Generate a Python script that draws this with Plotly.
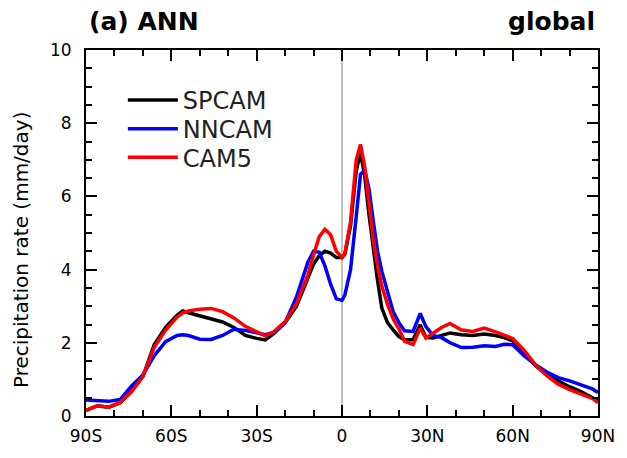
import plotly.graph_objects as go

# Zonal-mean annual precipitation (mm/day) against latitude
lat = [-90, -86, -82, -78, -74, -70, -66, -62, -58, -56, -54, -50, -46, -42, -38, -34,
       -30, -27, -24, -20, -16, -12, -10, -8, -6, -4, -2, 0, 1, 3, 5, 6.5, 8, 9.5,
       11, 12.5, 14, 16, 18, 20, 22, 25, 27.5, 29.5, 32, 35, 38, 42, 46, 50, 54,
       57, 60, 64, 68, 72, 76, 80, 84, 88, 90]

spcam = [0.15, 0.28, 0.24, 0.36, 0.68, 1.08, 1.95, 2.42, 2.75, 2.87, 2.82, 2.74, 2.66,
         2.57, 2.42, 2.20, 2.12, 2.08, 2.25, 2.55, 3.00, 3.75, 4.15, 4.38, 4.50, 4.45,
         4.33, 4.33, 4.42, 5.20, 6.70, 7.20, 6.55, 5.50, 4.50, 3.70, 2.95, 2.55, 2.35,
         2.17, 2.08, 2.08, 2.49, 2.15, 2.13, 2.20, 2.27, 2.22, 2.20, 2.24, 2.20, 2.14,
         2.05, 1.75, 1.38, 1.12, 0.96, 0.80, 0.67, 0.52, 0.42]

nncam = [0.44, 0.42, 0.40, 0.45, 0.82, 1.12, 1.65, 2.03, 2.20, 2.22, 2.20, 2.10, 2.09,
         2.20, 2.37, 2.34, 2.28, 2.22, 2.28, 2.55, 3.25, 4.20, 4.50, 4.47, 4.10, 3.60,
         3.20, 3.16, 3.30, 4.00, 5.45, 6.60, 6.72, 6.20, 5.32, 4.50, 3.95, 3.40, 2.85,
         2.55, 2.33, 2.31, 2.80, 2.44, 2.20, 2.14, 2.00, 1.87, 1.88, 1.92, 1.90, 1.96,
         1.95, 1.65, 1.40, 1.20, 1.05, 0.96, 0.86, 0.74, 0.64]

cam5 = [0.15, 0.28, 0.24, 0.37, 0.66, 1.08, 1.88, 2.35, 2.70, 2.82, 2.87, 2.92, 2.94,
        2.85, 2.68, 2.45, 2.30, 2.19, 2.30, 2.58, 3.07, 3.85, 4.40, 4.90, 5.10, 4.95,
        4.50, 4.33, 4.44, 5.30, 7.00, 7.42, 6.80, 5.80, 4.80, 4.10, 3.55, 3.05, 2.65,
        2.38, 2.04, 1.95, 2.40, 2.13, 2.25, 2.42, 2.53, 2.35, 2.31, 2.40, 2.30, 2.22,
        2.12, 1.80, 1.40, 1.10, 0.87, 0.72, 0.60, 0.48, 0.37]

x_tickvals = [-90, -60, -30, 0, 30, 60, 90]
x_ticktext = ["90S", "60S", "30S", "0", "30N", "60N", "90N"]
y_tickvals = [0, 2, 4, 6, 8, 10]

FONT = "DejaVu Sans, Liberation Sans, sans-serif"

fig = go.Figure()

# Equator reference line
fig.add_trace(go.Scatter(x=[0, 0], y=[0, 10], mode="lines",
                         line=dict(color="#c0c0c0", width=2),
                         showlegend=False, hoverinfo="skip"))

series = [("SPCAM", spcam, "black", "legend"),
          ("NNCAM", nncam, "#0000ff", "legend2"),
          ("CAM5", cam5, "#ff0000", "legend3")]
for name, vals, color, leg in series:
    fig.add_trace(go.Scatter(x=lat, y=vals, mode="lines", name=name,
                             legend=leg, line=dict(color=color, width=3.5)))

axis_common = dict(
    showgrid=False, zeroline=False, showline=True, linecolor="black",
    linewidth=2, mirror="allticks", ticks="inside", tickcolor="black",
    tickwidth=1.5, tickfont=dict(family=FONT, size=17, color="black"),
)

fig.update_xaxes(range=[-90, 90], tickvals=x_tickvals, ticktext=x_ticktext,
                 ticklen=11, ticklabelstandoff=4,
                 minor=dict(tickvals=list(range(-80, 90, 10)), ticks="inside",
                            ticklen=6, tickwidth=1.5, tickcolor="black"),
                 **axis_common)
fig.update_yaxes(range=[0, 10], tickvals=y_tickvals, ticklen=11,
                 ticklabelstandoff=9,
                 minor=dict(dtick=0.5, ticks="inside", ticklen=6,
                            tickwidth=1.5, tickcolor="black"),
                 **axis_common)

legend_style = dict(x=0.072, xanchor="left", yanchor="middle",
                    bgcolor="rgba(0,0,0,0)", itemwidth=50,
                    font=dict(family=FONT, size=24, color="#222222"))

fig.update_layout(
    width=627, height=458,
    margin=dict(l=86, r=20, t=50, b=38),
    paper_bgcolor="white", plot_bgcolor="white",
    font=dict(family=FONT, color="black"),
    showlegend=True,
    legend=dict(y=0.862, **legend_style),
    legend2=dict(y=0.784, **legend_style),
    legend3=dict(y=0.706, **legend_style),
    annotations=[
        dict(text="<b>(a) ANN</b>", xref="paper", yref="paper", x=0.0, y=1.0,
             xanchor="left", yanchor="middle", xshift=1, yshift=29,
             showarrow=False, font=dict(family=FONT, size=25, color="black")),
        dict(text="<b>global</b>", xref="paper", yref="paper", x=1.0, y=1.0,
             xanchor="right", yanchor="middle", xshift=-1, yshift=29,
             showarrow=False, font=dict(family=FONT, size=25, color="black")),
        dict(text="Precipitation rate (mm/day)", xref="paper", yref="paper",
             x=0.0, y=0.5, xanchor="center", yanchor="middle", xshift=-65,
             yshift=-17, textangle=-90, showarrow=False,
             font=dict(family=FONT, size=20, color="black")),
    ],
)

fig.write_html("out.html")
